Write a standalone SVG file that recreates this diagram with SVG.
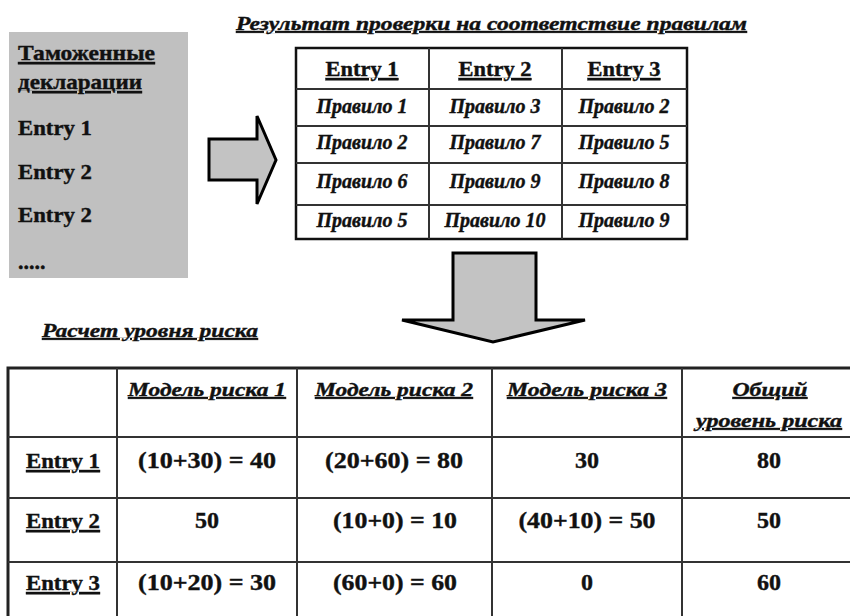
<svg xmlns="http://www.w3.org/2000/svg" width="850" height="616" viewBox="0 0 850 616">
<style>
text{font-family:"Liberation Serif","Times New Roman",serif;font-weight:bold;fill:#111;stroke:#111;stroke-width:0.4}
.u{text-decoration:underline}
.c{text-anchor:middle}
.e{font-size:22px}
.r{font-size:20px;font-style:italic}
.n{font-size:24px}
.h{font-size:19px;font-style:italic;text-decoration:underline}
.grid{stroke:#333;stroke-width:2;fill:none}
.arrow{fill:#c3c3c3;stroke:#000;stroke-width:3;stroke-linejoin:miter}
</style>
<rect width="850" height="616" fill="#fff"/>

<g id="declarations">
<rect x="9" y="32" width="179" height="246" fill="#c0c0c0"/>
<text x="18" y="60" class="e u" textLength="137" lengthAdjust="spacingAndGlyphs">Таможенные</text>
<text x="18" y="89" class="e u" textLength="124" lengthAdjust="spacingAndGlyphs">декларации</text>
<text x="18" y="135" class="e" textLength="74" lengthAdjust="spacingAndGlyphs">Entry 1</text>
<text x="18" y="179" class="e" textLength="74" lengthAdjust="spacingAndGlyphs">Entry 2</text>
<text x="18" y="222" class="e" textLength="74" lengthAdjust="spacingAndGlyphs">Entry 2</text>
<text x="18" y="269" class="e">.....</text>
</g>

<g id="connectors">
<polygon id="arrow-right" class="arrow" points="209,139 257,139 257,116 276,160 257,204 257,180 209,180"/>
<polygon id="arrow-down" class="arrow" points="453,253 536,253 536,320 585,320 493,342 402,320 453,320"/>
</g>

<g id="rule-check">
<text x="236" y="30" class="h" textLength="511" lengthAdjust="spacingAndGlyphs">Результат проверки на соответствие правилам</text>
<rect x="296" y="48" width="391" height="191" fill="#fff" stroke="#111" stroke-width="2.5"/>
<path class="grid" d="M429,48V239M562,48V239M296,89H687M296,126H687M296,163H687M296,205H687"/>
<text x="362" y="76" class="e c u" textLength="73" lengthAdjust="spacingAndGlyphs">Entry 1</text>
<text x="495" y="76" class="e c u" textLength="73" lengthAdjust="spacingAndGlyphs">Entry 2</text>
<text x="624" y="76" class="e c u" textLength="73" lengthAdjust="spacingAndGlyphs">Entry 3</text>
<text x="362" y="113" class="r c">Правило 1</text>
<text x="495" y="113" class="r c">Правило 3</text>
<text x="624" y="113" class="r c">Правило 2</text>
<text x="362" y="149" class="r c">Правило 2</text>
<text x="495" y="149" class="r c">Правило 7</text>
<text x="624" y="149" class="r c">Правило 5</text>
<text x="362" y="188" class="r c">Правило 6</text>
<text x="495" y="188" class="r c">Правило 9</text>
<text x="624" y="188" class="r c">Правило 8</text>
<text x="362" y="227" class="r c">Правило 5</text>
<text x="495" y="227" class="r c">Правило 10</text>
<text x="624" y="227" class="r c">Правило 9</text>
</g>

<g id="risk-calc">
<text x="42" y="337" class="h" textLength="216" lengthAdjust="spacingAndGlyphs">Расчет уровня риска</text>
<rect x="8" y="368" width="860" height="260" fill="none" stroke="#222" stroke-width="3"/>
<path class="grid" d="M117,368V616M297,368V616M492,368V616M682,368V616M8,437H850M8,498H850M8,562H850"/>
<text x="207" y="396" class="h c" textLength="158" lengthAdjust="spacingAndGlyphs">Модель риска 1</text>
<text x="394" y="396" class="h c" textLength="158" lengthAdjust="spacingAndGlyphs">Модель риска 2</text>
<text x="587" y="396" class="h c" textLength="160" lengthAdjust="spacingAndGlyphs">Модель риска 3</text>
<text x="770" y="396" class="h c" textLength="75" lengthAdjust="spacingAndGlyphs">Общий</text>
<text x="769" y="427" class="h c" textLength="146" lengthAdjust="spacingAndGlyphs">уровень риска</text>

<text x="63" y="468" class="e c u" textLength="74" lengthAdjust="spacingAndGlyphs">Entry 1</text>
<text x="207" y="468" class="n c" textLength="138" lengthAdjust="spacingAndGlyphs">(10+30) = 40</text>
<text x="394" y="468" class="n c" textLength="138" lengthAdjust="spacingAndGlyphs">(20+60) = 80</text>
<text x="587" y="468" class="n c">30</text>
<text x="769" y="468" class="n c">80</text>

<text x="63" y="528" class="e c u" textLength="74" lengthAdjust="spacingAndGlyphs">Entry 2</text>
<text x="207" y="528" class="n c">50</text>
<text x="395" y="528" class="n c" textLength="124" lengthAdjust="spacingAndGlyphs">(10+0) = 10</text>
<text x="587" y="528" class="n c" textLength="137" lengthAdjust="spacingAndGlyphs">(40+10) = 50</text>
<text x="769" y="528" class="n c">50</text>

<text x="63" y="590" class="e c u" textLength="74" lengthAdjust="spacingAndGlyphs">Entry 3</text>
<text x="207" y="590" class="n c" textLength="138" lengthAdjust="spacingAndGlyphs">(10+20) = 30</text>
<text x="395" y="590" class="n c" textLength="124" lengthAdjust="spacingAndGlyphs">(60+0) = 60</text>
<text x="587" y="590" class="n c">0</text>
<text x="769" y="590" class="n c">60</text>
</g>
</svg>
